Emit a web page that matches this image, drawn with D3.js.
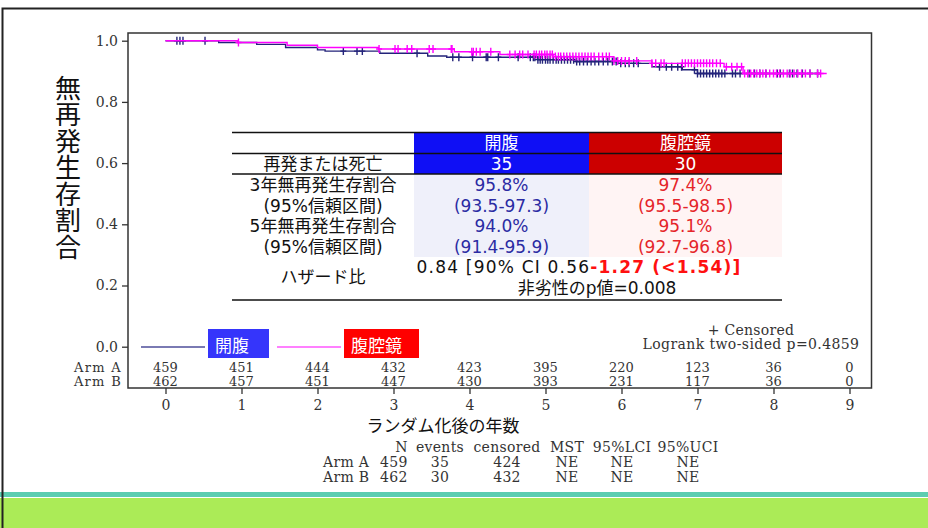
<!DOCTYPE html>
<html>
<head>
<meta charset="utf-8">
<script src="https://cdn.jsdelivr.net/npm/d3@7"></script>
<style>
  body { margin: 0; background: #fff; }
  svg { display: block; }
</style>
</head>
<body>
<svg width="928" height="528"></svg>
<script>
// ---- data ----
var years = [0, 1, 2, 3, 4, 5, 6, 7, 8, 9];
var yTicks = [0, 0.2, 0.4, 0.6, 0.8, 1.0];

// Arm A = 開腹 (navy), Arm B = 腹腔鏡 (magenta); step times / survival after step
var armATime = [0, 0.70, 1.20, 1.58, 2.00, 2.10, 2.82, 3.45, 3.70, 4.90, 5.40, 5.95, 6.40, 6.80, 7.00];
var armASurv = [1, 0.994, 0.988, 0.978, 0.970, 0.966, 0.959, 0.950, 0.946, 0.938, 0.932, 0.926, 0.915, 0.905, 0.893];
var armAEnd = 8.62;
var armBTime = [0, 0.95, 1.60, 2.00, 2.80, 3.80, 4.40, 5.10, 5.90, 6.40, 7.35, 7.60];
var armBSurv = [1, 0.994, 0.985, 0.978, 0.973, 0.964, 0.955, 0.948, 0.934, 0.926, 0.915, 0.893];
var armBEnd = 8.70;

var armACens = [0.15, 0.19, 0.23, 0.52, 2.34, 2.52, 2.59, 3.31, 3.78, 3.86, 4.04, 4.22, 4.24, 4.38, 4.64, 4.80, 4.84, 4.86,
  4.90, 4.93, 4.96, 5.00, 5.03, 5.06, 5.10, 5.14, 5.17, 5.21, 5.25, 5.29, 5.33, 5.37, 5.41, 5.45, 5.50, 5.55, 5.60,
  5.65, 5.70, 5.76, 5.82, 5.88, 5.93, 5.99, 6.05, 6.10, 6.16, 6.22,
  6.50, 6.59, 6.66, 6.74, 6.79,
  6.96, 7.00, 7.04, 7.08, 7.12, 7.16, 7.20, 7.24, 7.28, 7.32, 7.36, 7.46, 7.50, 7.56, 7.68, 7.75, 7.82, 7.90,
  8.05, 8.09, 8.21, 8.25, 8.31, 8.38, 8.48, 8.58];
var armBCens = [0.96, 2.81, 3.02, 3.06, 3.18, 3.24, 3.47, 3.52, 3.76, 3.77, 4.03, 4.05, 4.09, 4.14, 4.28, 4.53, 4.60, 4.66, 4.70, 4.77,
  4.85, 4.88, 4.92, 4.95, 4.99, 5.02, 5.06, 5.09, 5.13, 5.17, 5.20, 5.24, 5.28, 5.32, 5.36, 5.40, 5.44, 5.48, 5.52, 5.56, 5.60,
  5.64, 5.70, 5.75, 5.80, 5.84, 5.90, 5.95, 6.00, 6.05, 6.10, 6.20,
  6.40, 6.45, 6.52, 6.56,
  6.80, 6.84, 6.88, 6.92, 6.96, 7.00, 7.04, 7.08, 7.12, 7.16, 7.20, 7.25, 7.30,
  7.38, 7.45, 7.52, 7.58,
  7.62, 7.66, 7.70, 7.74, 7.78, 7.82, 7.86, 7.90, 7.95, 8.00, 8.04, 8.08, 8.13, 8.18, 8.22, 8.27, 8.32, 8.37, 8.42, 8.48, 8.58, 8.62];

// numbers at risk
var riskA = [459, 451, 444, 432, 423, 395, 220, 123, 36, 0];
var riskB = [462, 457, 451, 447, 430, 393, 231, 117, 36, 0];

// summary table in the plot
var tableHead = ['開腹', '腹腔鏡'];
var eventsRow = ['再発または死亡', '35', '30'];
var rateLabels = ['3年無再発生存割合', '(95%信頼区間)', '5年無再発生存割合', '(95%信頼区間)'];
var rateA = ['95.8%', '(93.5-97.3)', '94.0%', '(91.4-95.9)'];
var rateB = ['97.4%', '(95.5-98.5)', '95.1%', '(92.7-96.8)'];
var hrLabel = 'ハザード比';
var hrText = ['0.84 [90% CI 0.56', '-1.27 (<1.54)]'];
var pText = '非劣性のp値=0.008';

// survfit-style summary below
var statsHead = ['N', 'events', 'censored', 'MST', '95%LCI', '95%UCI'];
var statsA = ['Arm A', '459', '35', '424', 'NE', 'NE', 'NE'];
var statsB = ['Arm B', '462', '30', '432', 'NE', 'NE', 'NE'];

// ---- drawing ----
var svg = d3.select('svg');
var serif = 'DejaVu Serif, serif';
var sans = 'DejaVu Sans, Noto Sans CJK JP, sans-serif';
var jp = 'Noto Sans CJK JP, sans-serif';
var navy = '#23237a', magenta = '#ff00ff';

// slide decoration
svg.append('rect').attr('x', 0).attr('y', 492).attr('width', 928).attr('height', 5).attr('fill', '#5ccdb0');
svg.append('rect').attr('x', 0).attr('y', 498).attr('width', 928).attr('height', 30).attr('fill', '#abeb57');
svg.append('path').attr('d', 'M2.5,528V8.5H928').attr('fill', 'none').attr('stroke', '#222').attr('stroke-width', 2);

var plot = { left: 128, right: 871.5, top: 33, bottom: 388 };
var x = d3.scaleLinear().domain([0, 9]).range([165.5, 849.5]);
var y = d3.scaleLinear().domain([0, 1]).range([346.7, 40.7]);

// axes
var yAxis = svg.append('g').attr('transform', 'translate(' + plot.left + ',0)')
  .call(d3.axisLeft(y).tickValues(yTicks).tickFormat(d3.format('.1f')).tickSize(6).tickPadding(4));
yAxis.select('.domain').remove();
yAxis.selectAll('text').attr('font-family', serif).attr('font-size', 14).attr('fill', '#333');
yAxis.selectAll('line').attr('stroke', '#333').attr('stroke-width', 1.3);

var xAxis = svg.append('g').attr('transform', 'translate(0,' + plot.bottom + ')')
  .call(d3.axisBottom(x).tickValues(years).tickFormat(d3.format('d')).tickSize(6).tickPadding(6));
xAxis.select('.domain').remove();
xAxis.selectAll('text').attr('font-family', serif).attr('font-size', 14).attr('fill', '#333');
xAxis.selectAll('line').attr('stroke', '#333').attr('stroke-width', 1.3);

svg.append('rect').attr('x', plot.left).attr('y', plot.top)
  .attr('width', plot.right - plot.left).attr('height', plot.bottom - plot.top)
  .attr('fill', 'none').attr('stroke', '#333').attr('stroke-width', 1.5);

// y title, written vertically
svg.append('text').attr('x', 68).attr('y', 75)
  .style('writing-mode', 'vertical-rl').attr('letter-spacing', 0.5)
  .attr('font-family', jp).attr('font-size', 26).attr('fill', '#111')
  .text('無再発生存割合');

// x title
svg.append('text').attr('x', 443).attr('y', 432).attr('text-anchor', 'middle')
  .attr('font-family', jp).attr('font-size', 17).attr('fill', '#111').text('ランダム化後の年数');

// KM curves
function stepPoints(times, survs, end) {
  var pts = [];
  times.forEach(function (t, i) {
    if (i > 0) pts.push([t, survs[i - 1]]);
    pts.push([t, survs[i]]);
  });
  pts.push([end, survs[survs.length - 1]]);
  return pts;
}
function survAt(times, survs, t) {
  var i = d3.bisectRight(times, t) - 1;
  return survs[Math.max(0, i)];
}
var line = d3.line().x(function (d) { return x(d[0]); }).y(function (d) { return y(d[1]); });

function drawArm(times, survs, end, cens, color) {
  var g = svg.append('g');
  g.append('path').datum(stepPoints(times, survs, end)).attr('d', line)
    .attr('fill', 'none').attr('stroke', color).attr('stroke-width', 1.4);
  g.selectAll('path.cens').data(cens).enter().append('path').attr('class', 'cens')
    .attr('d', function (t) {
      var cx = x(t), cy = y(survAt(times, survs, t));
      return 'M' + cx + ',' + (cy - 4) + 'V' + (cy + 4) + 'M' + (cx - 3) + ',' + cy + 'H' + (cx + 3);
    })
    .attr('stroke', color).attr('stroke-width', 1.4).attr('fill', 'none');
}
drawArm(armATime, armASurv, armAEnd, armACens, navy);
drawArm(armBTime, armBSurv, armBEnd, armBCens, magenta);

// summary table
var tb = { l: 232, c1: 414, c2: 589, r: 782 };
var tg = svg.append('g');
tg.append('rect').attr('x', tb.c1).attr('y', 132).attr('width', tb.c2 - tb.c1).attr('height', 42).attr('fill', '#0f0ff5');
tg.append('rect').attr('x', tb.c2).attr('y', 132).attr('width', tb.r - tb.c2).attr('height', 42).attr('fill', '#cc0000');
tg.append('rect').attr('x', tb.c1).attr('y', 174).attr('width', tb.c2 - tb.c1).attr('height', 83).attr('fill', '#eff0fa');
tg.append('rect').attr('x', tb.c2).attr('y', 174).attr('width', tb.r - tb.c2).attr('height', 83).attr('fill', '#fff4f4');
[132.5, 153.5, 174, 300].forEach(function (ly) {
  tg.append('line').attr('x1', tb.l).attr('x2', tb.r).attr('y1', ly).attr('y2', ly)
    .attr('stroke', '#111').attr('stroke-width', 1.4);
});
var colA = (tb.c1 + tb.c2) / 2, colB = (tb.c2 + tb.r) / 2, colL = (tb.l + tb.c1) / 2;
function tText(tx, ty, s, color) {
  return tg.append('text').attr('x', tx).attr('y', ty).attr('text-anchor', 'middle')
    .attr('dominant-baseline', 'central').attr('font-family', sans).attr('font-size', 17)
    .attr('fill', color).text(s);
}
tText(colA, 143, tableHead[0], '#fff');
tText(colB, 143, tableHead[1], '#fff');
tText(colL, 164, eventsRow[0], '#111');
tText(colA, 164, eventsRow[1], '#fff');
tText(colB, 164, eventsRow[2], '#fff');
rateLabels.forEach(function (s, i) {
  var ty = 185 + i * 20.5;
  tText(colL, ty, s, '#111');
  tText(colA, ty, rateA[i], '#2b2ba3');
  tText(colB, ty, rateB[i], '#e5252a');
});
tText(colL, 277, hrLabel, '#111');
var hr = tText(579, 267, hrText[0], '#111').attr('letter-spacing', 1.2);
hr.append('tspan').attr('fill', '#ff1010').attr('font-weight', 'bold').text(hrText[1]);
tText(597, 288, pText, '#111');

// legend
var lg = svg.append('g');
lg.append('line').attr('x1', 141).attr('x2', 205).attr('y1', 347).attr('y2', 347).attr('stroke', '#7a7ab3').attr('stroke-width', 2);
lg.append('rect').attr('x', 208).attr('y', 329).attr('width', 61).attr('height', 29).attr('fill', '#3535fb');
lg.append('text').attr('x', 215).attr('y', 344).attr('dominant-baseline', 'central').attr('font-family', jp)
  .attr('font-size', 17).attr('fill', '#fff').text(tableHead[0]);
lg.append('line').attr('x1', 277).attr('x2', 341).attr('y1', 347).attr('y2', 347).attr('stroke', '#ff80ff').attr('stroke-width', 2);
lg.append('rect').attr('x', 344).attr('y', 329).attr('width', 75).attr('height', 29).attr('fill', '#ff0000');
lg.append('text').attr('x', 351).attr('y', 344).attr('dominant-baseline', 'central').attr('font-family', jp)
  .attr('font-size', 17).attr('fill', '#fff').text(tableHead[1]);

svg.append('text').attr('x', 751).attr('y', 329.5).attr('text-anchor', 'middle').attr('dominant-baseline', 'central')
  .attr('font-family', serif).attr('font-size', 14).attr('letter-spacing', 0.3).attr('fill', '#333').text('+ Censored');
svg.append('text').attr('x', 751).attr('y', 344).attr('text-anchor', 'middle').attr('dominant-baseline', 'central')
  .attr('font-family', serif).attr('font-size', 14).attr('letter-spacing', 0.4).attr('fill', '#333').text('Logrank two-sided p=0.4859');

// numbers at risk
[['Arm A', riskA, 367], ['Arm B', riskB, 381]].forEach(function (row) {
  svg.append('text').attr('x', 122).attr('y', row[2]).attr('text-anchor', 'end').attr('dominant-baseline', 'central')
    .attr('font-family', serif).attr('font-size', 13).attr('letter-spacing', 1.3).attr('fill', '#333').text(row[0]);
  svg.append('g').selectAll('text').data(row[1]).enter().append('text')
    .attr('x', function (d, i) { return x(years[i]); }).attr('y', row[2])
    .attr('text-anchor', 'middle').attr('dominant-baseline', 'central')
    .attr('font-family', serif).attr('font-size', 13).attr('fill', '#333')
    .text(function (d) { return d; });
});

// summary stats below
var statX = [407.7, 440, 507, 567, 622, 688];
function statRow(cells, ty) {
  cells.forEach(function (s, i) {
    svg.append('text').attr('x', statX[i]).attr('y', ty)
      .attr('text-anchor', i === 0 ? 'end' : 'middle').attr('dominant-baseline', 'central')
      .attr('font-family', serif).attr('font-size', 14).attr('letter-spacing', 0.3).attr('fill', '#333').text(s);
  });
}
statRow(statsHead, 447);
[[statsA, 462], [statsB, 477]].forEach(function (r) {
  svg.append('text').attr('x', 323).attr('y', r[1]).attr('dominant-baseline', 'central')
    .attr('font-family', serif).attr('font-size', 14).attr('letter-spacing', 0.3).attr('fill', '#333').text(r[0][0]);
  statRow(r[0].slice(1), r[1]);
});
</script>
</body>
</html>
